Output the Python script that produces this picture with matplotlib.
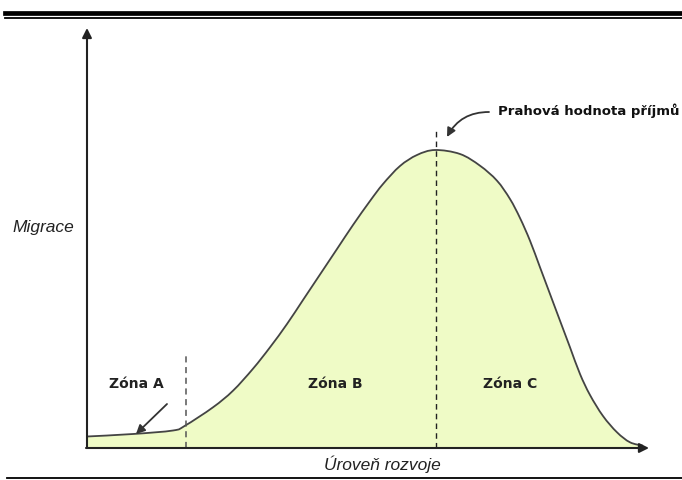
import matplotlib
matplotlib.use('Agg')
import matplotlib.pyplot as plt
from matplotlib.lines import Line2D
from matplotlib.path import Path
from matplotlib.patches import PathPatch

plt.rcParams['font.family'] = ['Liberation Sans', 'DejaVu Sans']

# úroveň rozvoje (x) a migrace (y)
rozvoj = [0, 46, 86, 98, 126, 146, 166, 183, 200, 216, 233, 250, 266, 283, 296, 313,
          330, 348, 373, 393, 410, 423, 433, 443, 453, 463, 473, 483, 493, 503, 516,
          530, 543, 556]
migrace = [11.5, 14, 17.5, 22.3, 40.7, 57.3, 79.3, 100.7, 124, 148, 173.5, 199, 223,
           247, 264, 282, 293, 298, 294, 282.3, 267.3, 249, 230, 207.3, 180.7, 154,
           127.3, 100.7, 74, 53, 32, 15.7, 5.7, 2.3]

hranice_a = 99   # konec zóny A
prah = 349       # prahová hodnota příjmů
zony = ['Zóna A', 'Zóna B', 'Zóna C']
zony_x = [49, 248, 423]
zony_y = 65

fill_color = '#EFFBC6'
line_color = '#444444'


def smooth_path(xs, ys, close_to=None):
    # hladká křivka přes body (Catmull-Rom -> Bezier)
    pts = list(zip(xs, ys))
    verts = [pts[0]]
    codes = [Path.MOVETO]
    n = len(pts)
    for i in range(n - 1):
        p0 = pts[i - 1] if i > 0 else pts[i]
        p1 = pts[i]
        p2 = pts[i + 1]
        p3 = pts[i + 2] if i + 2 < n else pts[i + 1]
        c1 = (p1[0] + (p2[0] - p0[0]) / 6, p1[1] + (p2[1] - p0[1]) / 6)
        c2 = (p2[0] - (p3[0] - p1[0]) / 6, p2[1] - (p3[1] - p1[1]) / 6)
        verts += [c1, c2, p2]
        codes += [Path.CURVE4] * 3
    if close_to is not None:
        verts += [(xs[-1], close_to), (xs[0], close_to), pts[0]]
        codes += [Path.LINETO, Path.LINETO, Path.CLOSEPOLY]
    return Path(verts, codes)


fig = plt.figure(figsize=(6.82, 4.81), dpi=100)
ax = fig.add_axes([0, 0, 1, 1])
ax.set_xlim(-87, 595)
ax.set_ylim(-32, 449)
ax.axis('off')

# -plocha pod křivkou
ax.add_patch(PathPatch(smooth_path(rozvoj, migrace, close_to=0), facecolor=fill_color, lw=0))
ax.add_patch(PathPatch(smooth_path(rozvoj, migrace), facecolor='none',
                       edgecolor=line_color, lw=1.3))

# -přerušované čáry
ax.plot([hranice_a, hranice_a], [0, 92], color='#555555', lw=1.1, ls=(0, (4, 3)))
ax.plot([prah, prah], [0, 318], color='#222222', lw=1.0, ls=(0, (4, 3)))

# -osy se šipkami
ax.annotate('', xy=(0, 420), xytext=(0, 0),
            arrowprops=dict(arrowstyle='-|>', color='#222222', lw=1.5,
                            mutation_scale=14, shrinkA=0, shrinkB=0))
ax.annotate('', xy=(562, 0), xytext=(-1, 0),
            arrowprops=dict(arrowstyle='-|>', color='#222222', lw=1.5,
                            mutation_scale=14, shrinkA=0, shrinkB=0))

# -popisky zón
for name, zx in zip(zony, zony_x):
    ax.text(zx, zony_y, name, ha='center', va='center', fontsize=10, fontweight='bold',
            color='#222222', family='DejaVu Sans')

# -šipka k zóně A
ax.annotate('', xy=(49, 14), xytext=(80, 44),
            arrowprops=dict(arrowstyle='-|>', color='#333333', lw=1.3,
                            mutation_scale=13, shrinkA=0, shrinkB=0))

# -prahová hodnota
ax.text(411, 338, 'Prahová hodnota příjmů', ha='left', va='center', fontsize=9.5,
        fontweight='bold', color='#111111', family='DejaVu Sans')
ax.annotate('', xy=(360, 311), xytext=(402, 336),
            arrowprops=dict(arrowstyle='-|>', color='#333333', lw=1.3,
                            mutation_scale=13, shrinkA=0, shrinkB=0,
                            connectionstyle='arc3,rad=0.3'))

# -popisky os
ax.text(-75, 221, 'Migrace', ha='left', va='center', fontsize=12.5, style='italic',
        color='#222222')
ax.text(295, -15, 'Úroveň rozvoje', ha='center', va='center', fontsize=12.5, style='italic',
        color='#222222')

# -linky nahoře a dole
H = 481.0
fig.add_artist(Line2D([5 / 682, 1], [1 - 14 / H, 1 - 14 / H], transform=fig.transFigure,
                      color='black', lw=3.4))
fig.add_artist(Line2D([5 / 682, 1], [1 - 19 / H, 1 - 19 / H], transform=fig.transFigure,
                      color='black', lw=1.3))
fig.add_artist(Line2D([7 / 682, 1], [1 - 478.5 / H, 1 - 478.5 / H], transform=fig.transFigure,
                      color='black', lw=1.3))

plt.savefig('out.png', dpi=100)
